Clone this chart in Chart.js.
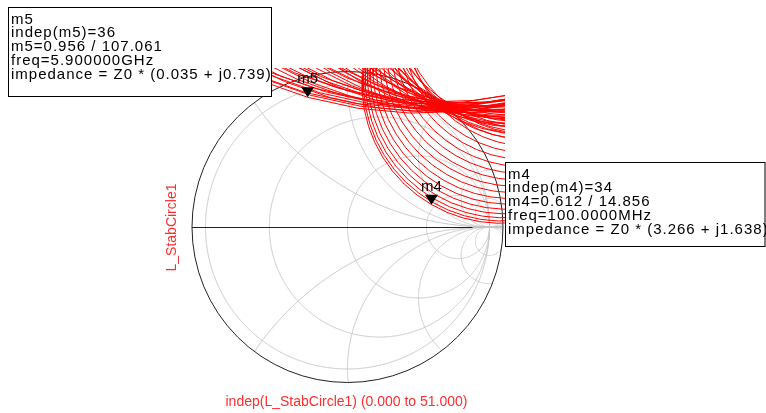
<!DOCTYPE html>
<html>
<head>
<meta charset="utf-8">
<script src="https://cdn.jsdelivr.net/npm/chart.js@4.4.1/dist/chart.umd.min.js"></script>
<style>
  body { margin: 0; background: #fff; }
  canvas { display: block; }
</style>
</head>
<body>
<canvas id="myChart" width="766" height="413"></canvas>
<script>
// load stability circles, one per frequency (centre re/im and radius, in gamma units)
const freqGHz = [0.1, 0.2, 0.3, 0.4, 0.5, 0.6, 0.7, 0.8, 0.9, 1.0, 1.1, 1.2, 1.3, 1.4, 1.5, 1.6,
  1.7, 1.8, 1.9, 2.0, 2.1, 2.2, 2.3, 2.4, 2.5, 2.6, 2.7, 2.8, 2.9, 3.0, 3.1, 3.2, 3.3, 3.4, 3.5,
  3.6, 3.7, 3.8, 3.9, 4.0, 4.1, 4.2, 4.3, 4.4, 4.5, 4.6, 4.7, 4.8, 4.9, 5.0, 5.1, 5.2, 5.3, 5.4,
  5.5, 5.6, 5.7, 5.8, 5.9, 6.0];
const centerRe = [1.082, 1.090, 1.100, 1.112, 1.126, 1.141, 1.157, 1.174, 1.191, 1.208, 1.226,
  1.244, 1.262, 1.280, 1.298, 1.279, 1.281, 1.281, 1.278, 1.272, 1.270, 1.267, 1.261, 1.253,
  1.243, 1.231, 1.225, 1.216, 1.205, 1.191, 1.178, 1.162, 1.145, 1.125, 1.106, 1.084, 1.061,
  1.039, 1.015, 0.990, 0.966, 0.940, 0.913, 0.888, 0.861, 0.833, 0.808, 0.781, 0.754, 0.725,
  0.699, 0.672, 0.644, 0.620, 0.595, 0.574, 0.552, 0.540, 0.527, 0.511];
const centerIm = [1.006, 1.020, 1.040, 1.065, 1.093, 1.124, 1.157, 1.192, 1.228, 1.265, 1.303,
  1.341, 1.380, 1.418, 1.456, 1.514, 1.565, 1.617, 1.669, 1.722, 1.771, 1.820, 1.870, 1.920,
  1.970, 2.020, 2.078, 2.136, 2.194, 2.253, 2.310, 2.368, 2.425, 2.483, 2.539, 2.596, 2.652,
  2.707, 2.762, 2.817, 2.871, 2.925, 2.978, 3.031, 3.084, 3.135, 3.187, 3.238, 3.289, 3.340,
  3.390, 3.440, 3.490, 3.539, 3.588, 3.638, 3.687, 3.726, 3.751, 3.785];
const radius = [0.980, 0.978, 0.975, 0.972, 0.968, 0.963, 0.957, 0.950, 0.942, 0.934, 0.925,
  0.916, 0.906, 0.897, 0.890, 0.900, 0.910, 1.000, 1.000, 1.070, 1.060, 1.170, 1.170, 1.220,
  1.230, 1.320, 1.330, 1.410, 1.410, 1.530, 1.540, 1.600, 1.620, 1.720, 1.730, 1.810, 1.810,
  1.930, 1.940, 2.000, 2.020, 2.120, 2.130, 2.210, 2.210, 2.330, 2.340, 2.400, 2.420, 2.520,
  2.530, 2.610, 2.610, 2.730, 2.740, 2.800, 2.820, 2.910, 2.950, 2.950];
const indepSteps = 51; // indep(L_StabCircle1) runs 0 to 51

// markers
const markerNames = ["m5", "m4"];
const markerIndep = [36, 34];
const markerMag = [0.956, 0.612];
const markerAng = [107.061, 14.856];
const markerFreq = ["5.900000GHz", "100.0000MHz"];
const markerImp = ["0.035 + j0.739", "3.266 + j1.638"];

// smith chart grid
const resistanceCircles = [0, 0.29, 1, 3.5];
const reactanceArcs = [0.5, 1, 2, 5, 10, -0.5, -1, -2, -5, -10];
const outerRadius = 1.095;

const datasets = freqGHz.map((f, i) => {
  const pts = [];
  for (let k = 0; k <= indepSteps; k++) {
    const a = (k / indepSteps) * 2 * Math.PI;
    pts.push({ x: centerRe[i] + radius[i] * Math.cos(a), y: centerIm[i] + radius[i] * Math.sin(a) });
  }
  return {
    label: f + " GHz",
    data: pts,
    showLine: true,
    borderColor: "rgb(255,0,0)",
    borderWidth: 1,
    pointRadius: 0,
    tension: 0,
  };
});

function px(chart, v) { return chart.scales.x.getPixelForValue(v); }
function py(chart, v) { return chart.scales.y.getPixelForValue(v); }

function strokeCircleInside(ctx, chart, cx, cy, r, limit) {
  const n = 2000;
  ctx.beginPath();
  let pen = false;
  for (let k = 0; k <= n; k++) {
    const a = (k / n) * 2 * Math.PI;
    const gx = cx + r * Math.cos(a);
    const gy = cy + r * Math.sin(a);
    if (Math.hypot(gx, gy) <= limit) {
      if (pen) ctx.lineTo(px(chart, gx), py(chart, gy));
      else ctx.moveTo(px(chart, gx), py(chart, gy));
      pen = true;
    } else {
      pen = false;
    }
  }
  ctx.stroke();
}

const smithGrid = {
  id: "smithGrid",
  beforeDatasetsDraw(chart) {
    const ctx = chart.ctx;
    ctx.save();
    ctx.lineWidth = 1;
    ctx.strokeStyle = "#c3c3c3";
    resistanceCircles.forEach((r) => {
      strokeCircleInside(ctx, chart, r / (1 + r), 0, 1 / (1 + r), 1.001);
    });
    reactanceArcs.forEach((x) => {
      strokeCircleInside(ctx, chart, 1, 1 / x, 1 / Math.abs(x), outerRadius);
    });
    ctx.beginPath();
    ctx.moveTo(px(chart, 0.88), py(chart, 0) + 0.5);
    ctx.lineTo(px(chart, 1), py(chart, 0) + 0.5);
    ctx.stroke();

    // outer circle and real axis
    ctx.strokeStyle = "#222";
    ctx.beginPath();
    ctx.arc(px(chart, 0), py(chart, 0), px(chart, outerRadius) - px(chart, 0), 0, 2 * Math.PI);
    ctx.stroke();
    ctx.beginPath();
    ctx.moveTo(px(chart, -outerRadius), py(chart, 0) + 0.5);
    ctx.lineTo(px(chart, 0.88), py(chart, 0) + 0.5);
    ctx.stroke();
    ctx.restore();
  },
  afterDatasetsDraw(chart) {
    const ctx = chart.ctx;
    ctx.save();
    markerNames.forEach((name, i) => {
      const a = (markerAng[i] * Math.PI) / 180;
      const x = px(chart, markerMag[i] * Math.cos(a));
      const y = py(chart, markerMag[i] * Math.sin(a));
      ctx.fillStyle = "#000";
      ctx.beginPath();
      ctx.moveTo(x, y);
      ctx.lineTo(x - 6.5, y - 10);
      ctx.lineTo(x + 6.5, y - 10);
      ctx.closePath();
      ctx.fill();
      ctx.font = "15px 'Liberation Sans', Arial, sans-serif";
      ctx.textAlign = "center";
      ctx.textBaseline = "alphabetic";
      ctx.fillText(name, x, y - 14);
    });
    ctx.restore();
  },
  afterDraw(chart) {
    const ctx = chart.ctx;
    ctx.save();
    // marker readouts
    const boxes = [
      { l: 8.5, t: 7.5, r: 271.5, b: 96.5 },
      { l: 505.5, t: 162.5, r: 765, b: 246.5 },
    ];
    markerNames.forEach((name, i) => {
      const bx = boxes[i];
      ctx.fillStyle = "#fff";
      ctx.fillRect(bx.l, bx.t, bx.r - bx.l, bx.b - bx.t);
      ctx.strokeStyle = "#000";
      ctx.lineWidth = 1;
      ctx.strokeRect(bx.l, bx.t, bx.r - bx.l, bx.b - bx.t);
      const lines = [
        name,
        "indep(" + name + ")=" + markerIndep[i],
        name + "=" + markerMag[i].toFixed(3) + " / " + markerAng[i].toFixed(3),
        "freq=" + markerFreq[i],
        "impedance = Z0 * (" + markerImp[i] + ")",
      ];
      ctx.fillStyle = "#000";
      ctx.font = "15px 'Liberation Sans', Arial, sans-serif";
      ctx.letterSpacing = "1px";
      ctx.textAlign = "left";
      ctx.textBaseline = "alphabetic";
      lines.forEach((s, j) => ctx.fillText(s, bx.l + 2.5, bx.t + 16 + j * 13.8));
      ctx.letterSpacing = "0px";
    });

    // axis labels
    ctx.fillStyle = "rgb(255,45,45)";
    ctx.font = "14px 'Liberation Sans', Arial, sans-serif";
    ctx.textAlign = "center";
    ctx.textBaseline = "middle";
    ctx.fillText("indep(L_StabCircle1) (0.000 to 51.000)", 346.5, 402);
    ctx.translate(172.5, 227.5);
    ctx.rotate(-Math.PI / 2);
    ctx.fillText("L_StabCircle1", 0, 0);
    ctx.restore();
  },
};

new Chart(document.getElementById("myChart"), {
  type: "scatter",
  data: { datasets },
  options: {
    responsive: false,
    animation: false,
    layout: { padding: { left: 190, right: 261, top: 68, bottom: 27 } },
    scales: {
      x: { type: "linear", min: -1.109, max: 1.109, display: false },
      y: { type: "linear", min: -1.12, max: 1.12, display: false },
    },
    plugins: { legend: { display: false }, tooltip: { enabled: false } },
  },
  plugins: [smithGrid],
});
</script>
</body>
</html>
